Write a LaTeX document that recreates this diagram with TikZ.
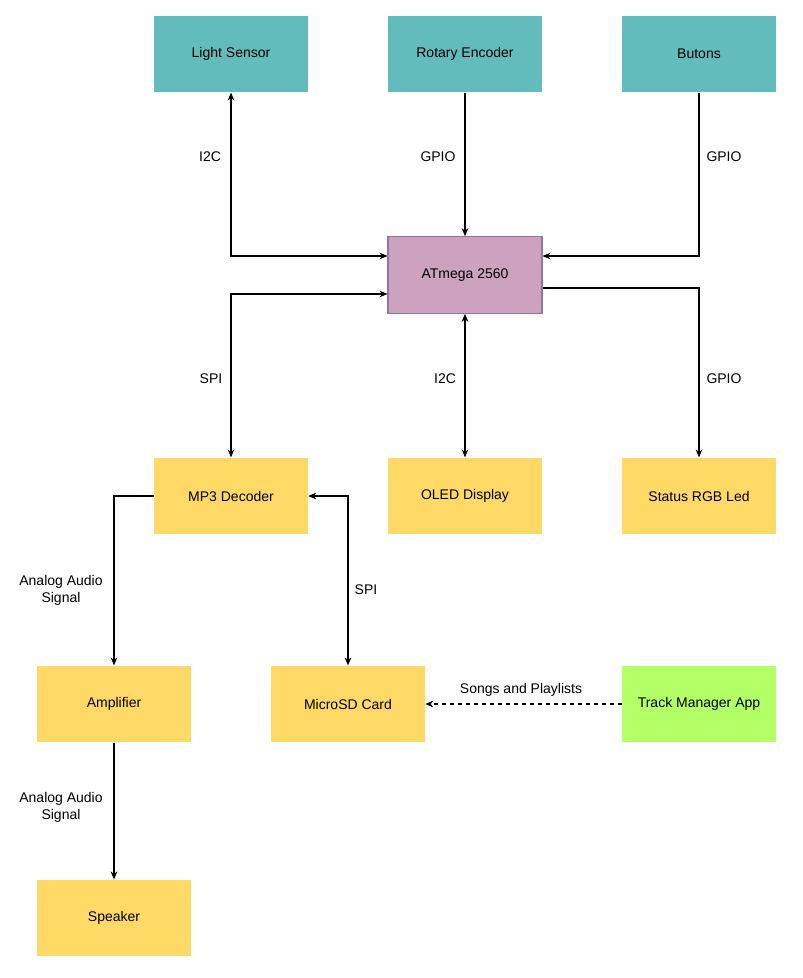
\documentclass[tikz,border=0pt]{standalone}
\usepackage{fontspec}
\setmainfont{Liberation Sans}
\usetikzlibrary{arrows.meta}
\definecolor{teal1}{HTML}{62BCBB}
\definecolor{yel}{HTML}{FFD966}
\definecolor{grn}{HTML}{B3FF66}
\definecolor{purp}{HTML}{CDA2BE}
\definecolor{purpb}{HTML}{9673A6}
\begin{document}
\begin{tikzpicture}[x=0.75pt,y=-0.75pt,
  box/.style={minimum width=115.5pt,minimum height=57.5pt,inner sep=0pt,font=\fontsize{10.5}{12}\selectfont,draw=none},
  lab/.style={font=\fontsize{10.5}{12.6}\selectfont,align=center,fill=white,inner sep=1pt},
  ar/.style={-{Stealth[length=6pt,width=5pt]},line width=0.8pt},
  bar/.style={{Stealth[length=6pt,width=5pt]}-{Stealth[length=6pt,width=5pt]},line width=0.8pt}]
\useasboundingbox (0,0) rectangle (803,978);
\node[box,fill=teal1] (ls) at (231,54) {Light Sensor};
\node[box,fill=teal1] (re) at (465,54) {Rotary Encoder};
\node[box,fill=teal1] (bt) at (699,54) {Butons};
\node[box,fill=purp,draw=purpb,line width=0.8pt] (at) at (465,275) {ATmega 2560};
\node[box,fill=yel] (mp) at (231,496) {MP3 Decoder};
\node[box,fill=yel] (ol) at (465,496) {OLED Display};
\node[box,fill=yel] (st) at (699,496) {Status RGB Led};
\node[box,fill=yel] (am) at (114,704) {Amplifier};
\node[box,fill=yel] (sd) at (348,704) {MicroSD Card};
\node[box,fill=grn] (tm) at (699,704) {Track Manager App};
\node[box,fill=yel] (sp) at (114,918) {Speaker};
\coordinate (c1) at (231,256);
\coordinate (c2) at (699,256);
\coordinate (c3) at (231,294);
\coordinate (c4) at (699,288);
\coordinate (c5) at (114,496);
\coordinate (c6) at (348,496);
\draw[bar] (ls.south) -- (c1) -- (c1 -| at.west);
\draw[ar] (re.south) -- (at.north);
\draw[ar] (bt.south) -- (c2) -- (c2 -| at.east);
\draw[bar] (c3 -| at.west) -- (c3) -- (mp.north);
\draw[bar] (at.south) -- (ol.north);
\draw[ar] (c4 -| at.east) -- (c4) -- (st.north);
\draw[ar] (mp.west) -- (c5) -- (am.north);
\draw[bar] (mp.east) -- (c6) -- (sd.north);
\draw[ar,dashed] (tm.west) -- (sd.east);
\draw[ar] (am.south) -- (sp.north);
\node[lab] at (210,157) {I2C};
\node[lab] at (438,157) {GPIO};
\node[lab] at (724,157) {GPIO};
\node[lab] at (211,379) {SPI};
\node[lab] at (445,379) {I2C};
\node[lab] at (724,379) {GPIO};
\node[lab] at (61,590) {Analog Audio\\Signal};
\node[lab] at (366,590) {SPI};
\node[lab,fill=none] at (521,690) {Songs and Playlists};
\node[lab] at (61,807) {Analog Audio\\Signal};
\end{tikzpicture}
\end{document}
